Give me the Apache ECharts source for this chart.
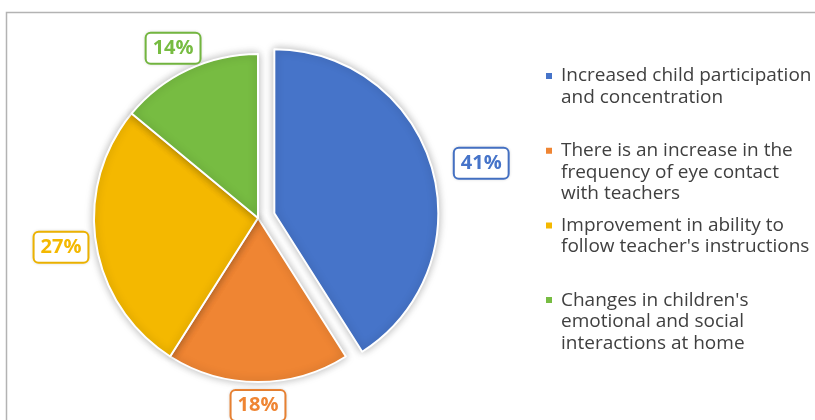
<!DOCTYPE html>
<html>
<head>
<meta charset="utf-8">
<script src="https://cdn.jsdelivr.net/npm/echarts@6/dist/echarts.min.js"></script>
<style>html,body{margin:0;padding:0;background:#fff}#c{width:815px;height:420px}</style>
</head>
<body>
<div id="c"></div>
<script>
const categories = [
  "Increased child participation and concentration",
  "There is an increase in the frequency of eye contact with teachers",
  "Improvement in ability to follow teacher's instructions",
  "Changes in children's emotional and social interactions at home"
];
const values = [41, 18, 27, 14];
const legendLines = [
  ["Increased child participation", "and concentration"],
  ["There is an increase in the", "frequency of eye contact", "with teachers"],
  ["Improvement in ability to", "follow teacher's instructions"],
  ["Changes in children's", "emotional and social", "interactions at home"]
];
const colors = ['#4674c9', '#ef8533', '#f4b800', '#77bc42'];

const CX = 258, CY = 218, R = 164, OFFSET = 17, GAP = 7;
const total = values.reduce((a, b) => a + b, 0);

function midAngle(i) {
  let s = 0;
  for (let k = 0; k < i; k++) s += values[k];
  return (s + values[i] / 2) / total * 2 * Math.PI;
}

const LH = 21.5, FIRST = 76, STEP = 74.7;
const legends = categories.map((name, i) => {
  const n = legendLines[i].length;
  const totalLines = 2 * n - 1;
  return {
    orient: 'vertical',
    left: 544,
    top: FIRST + i * STEP - totalLines * LH / 2,
    padding: 0,
    itemWidth: 8,
    itemHeight: 8,
    icon: 'rect',
    selectedMode: false,
    data: [name],
    formatter: () => new Array(n).join('\n') + legendLines[i].join('\n'),
    textStyle: { fontFamily: 'Open Sans', fontSize: 19, lineHeight: LH, color: '#404040', padding: [0, 0, 0, 3] }
  };
});

const chart = echarts.init(document.getElementById('c'), null, { renderer: 'canvas' });
chart.setOption({
  animation: false,
  color: colors,
  graphic: [{
    type: 'rect', silent: true, z: -10,
    shape: { x: 6.5, y: 12.5, width: 900, height: 500 },
    style: { fill: 'none', stroke: '#b3b3b3', lineWidth: 1.5 }
  }],
  legend: legends,
  series: [{
    type: 'pie',
    center: [CX, CY],
    radius: R,
    startAngle: 90,
    clockwise: true,
    selectedMode: 'single',
    selectedOffset: OFFSET,
    avoidLabelOverlap: false,
    emphasis: { disabled: true },
    itemStyle: { borderColor: '#fff', borderWidth: 2, shadowBlur: 8, shadowColor: 'rgba(0,0,0,0.28)' },
    label: {
      show: true,
      position: 'outside',
      formatter: '{c}%',
      fontFamily: 'Open Sans',
      fontWeight: 'bold',
      fontSize: 20,
      backgroundColor: '#fff',
      borderWidth: 2,
      borderRadius: 4,
      padding: [5, 6, 4, 6],
      shadowBlur: 3,
      shadowColor: 'rgba(0,0,0,0.15)'
    },
    labelLine: { show: false },
    labelLayout: function (p) {
      const i = p.dataIndex;
      const a = midAngle(i);
      const dx = Math.sin(a), dy = -Math.cos(a);
      const px = CX + (R + GAP) * dx;
      const py = CY + (R + GAP) * dy;
      const w = p.labelRect.width, h = p.labelRect.height;
      return { x: px + dx * w / 2, y: py + dy * h / 2, align: 'center', verticalAlign: 'middle' };
    },
    data: categories.map((name, i) => ({
      name: name,
      value: values[i],
      selected: i === 0,
      label: { color: colors[i], borderColor: colors[i] }
    }))
  }]
});
</script>
</body>
</html>
